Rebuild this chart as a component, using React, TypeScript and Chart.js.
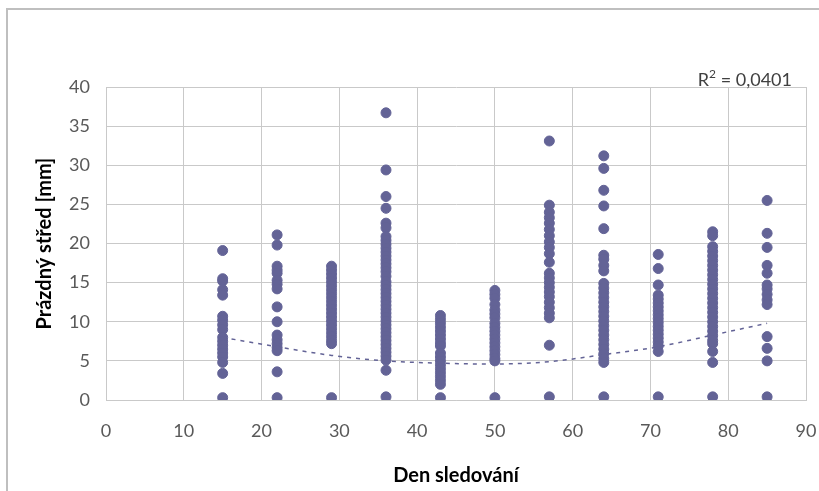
import React, { useEffect, useRef } from "react";
import { Chart, registerables } from "chart.js";

Chart.register(...registerables);

// Measurement days (x positions of the columns)
const days = [15, 22, 29, 36, 43, 50, 57, 64, 71, 78, 85];

// Empty-centre measurements [mm] for each observation day
const d15 = [19.1, 15.5, 15.2, 14.1, 13.4, 10.7, 10.2, 9.6, 9.0, 8.0, 7.5, 7.0, 6.5, 6.0, 5.5, 4.8, 3.4, 0.3];
const d22 = [21.1, 19.8, 17.1, 16.6, 16.2, 15.3, 14.8, 14.2, 11.9, 10.0, 8.3, 7.7, 7.2, 6.7, 6.3, 3.6, 0.3];
const d29 = [17.1, 16.6, 16.1, 15.6, 15.1, 14.6, 14.1, 13.6, 13.1, 12.6, 12.1, 11.6, 11.1, 10.6, 10.1, 9.6, 9.1, 8.6, 8.1, 7.6, 7.2, 0.3];
const d36 = [36.7, 29.4, 26.0, 24.5, 22.6, 22.0, 20.9, 20.4, 19.9, 19.4, 18.9, 18.4, 17.9, 17.4, 16.9, 16.4, 15.8, 15.1, 14.6, 14.1, 13.6, 13.1, 12.6, 12.1, 11.6, 11.1, 10.6, 10.1, 9.6, 9.1, 8.6, 8.1, 7.6, 7.1, 6.6, 6.1, 5.6, 5.1, 3.8, 0.4];
const d43 = [10.8, 10.3, 9.8, 9.3, 8.8, 8.3, 7.8, 7.3, 6.9, 6.0, 5.5, 5.0, 4.5, 4.0, 3.5, 3.0, 2.5, 2.0, 0.3];
const d50 = [14.0, 13.5, 13.0, 12.2, 11.5, 11.0, 10.5, 9.8, 9.3, 8.8, 8.3, 7.8, 7.3, 6.8, 6.3, 5.8, 5.3, 5.0, 0.3];
const d57 = [33.1, 24.9, 24.0, 23.3, 22.6, 21.8, 21.0, 20.2, 19.5, 18.7, 17.6, 16.2, 15.6, 15.0, 14.4, 13.8, 13.2, 12.5, 11.8, 11.1, 10.5, 7.0, 0.4];
const d64 = [31.2, 29.6, 26.8, 24.8, 21.9, 18.5, 18.0, 17.2, 16.5, 14.9, 14.3, 13.7, 13.1, 12.5, 11.9, 11.3, 10.7, 10.1, 9.5, 8.9, 8.3, 7.7, 7.1, 6.5, 5.9, 5.3, 4.8, 0.4];
const d71 = [18.6, 16.8, 14.7, 13.4, 12.9, 12.4, 11.9, 11.4, 10.9, 10.4, 9.9, 9.4, 8.9, 8.4, 7.9, 7.4, 6.9, 6.2, 0.4];
const d78 = [21.5, 21.0, 19.6, 19.0, 18.4, 17.8, 17.2, 16.6, 16.0, 15.4, 14.8, 14.2, 13.6, 13.0, 12.4, 11.8, 11.2, 10.6, 10.0, 9.4, 8.8, 8.2, 7.6, 7.2, 6.2, 4.8, 0.4];
const d85 = [25.5, 21.3, 19.5, 17.2, 16.2, 14.7, 14.2, 13.5, 12.8, 12.2, 8.1, 6.6, 5.0, 0.4];

const columns = [d15, d22, d29, d36, d43, d50, d57, d64, d71, d78, d85];

// Polynomial trend line values at each observation day
const trendValues = [8.0, 6.8, 5.7, 5.0, 4.7, 4.6, 4.9, 5.8, 6.8, 8.3, 9.8];

const rSquaredText = "0,0401";
const xTitle = "Den sledování";
const yTitle = "Prázdný střed [mm]";

const FONT = "Lato, 'Open Sans', sans-serif";
const POINT_COLOR = "rgb(99, 99, 150)";
const GRID_COLOR = "#c9c9c9";

const annotations = {
  id: "annotations",
  afterDraw(chart: any) {
    const { ctx, chartArea } = chart;
    ctx.save();
    // y axis title
    ctx.fillStyle = "#000";
    ctx.font = `bold 20px ${FONT}`;
    ctx.textAlign = "center";
    ctx.textBaseline = "middle";
    ctx.translate(45, (chartArea.top + chartArea.bottom) / 2);
    ctx.rotate(-Math.PI / 2);
    ctx.fillText(yTitle, 0, 0);
    ctx.restore();

    ctx.save();
    // x axis title
    ctx.fillStyle = "#000";
    ctx.font = `bold 20px ${FONT}`;
    ctx.textAlign = "center";
    ctx.textBaseline = "middle";
    ctx.fillText(xTitle, (chartArea.left + chartArea.right) / 2, 476);

    // R² label, right aligned
    ctx.fillStyle = "#404040";
    ctx.textBaseline = "alphabetic";
    ctx.textAlign = "left";
    ctx.font = `18px ${FONT}`;
    const rest = ` = ${rSquaredText}`;
    const wR = ctx.measureText("R").width;
    const wRest = ctx.measureText(rest).width;
    ctx.font = `12px ${FONT}`;
    const w2 = ctx.measureText("2").width;
    const right = 792;
    const baseline = 86;
    let x = right - (wR + w2 + wRest);
    ctx.font = `18px ${FONT}`;
    ctx.fillText("R", x, baseline);
    x += wR;
    ctx.font = `12px ${FONT}`;
    ctx.fillText("2", x, baseline - 8);
    x += w2;
    ctx.font = `18px ${FONT}`;
    ctx.fillText(rest, x, baseline);
    ctx.restore();
  },
};

export default function App() {
  const canvasRef = useRef<HTMLCanvasElement | null>(null);

  useEffect(() => {
    const canvas = canvasRef.current;
    if (!canvas) return;

    const points: { x: number; y: number }[] = [];
    columns.forEach((col, i) => {
      col.forEach((v) => points.push({ x: days[i], y: v }));
    });
    const trend = days.map((d, i) => ({ x: d, y: trendValues[i] }));

    const tickFont = { family: FONT, size: 18 };

    const chart = new Chart(canvas, {
      type: "scatter",
      data: {
        datasets: [
          {
            type: "scatter",
            data: points,
            backgroundColor: POINT_COLOR,
            borderColor: POINT_COLOR,
            pointRadius: 5,
            pointBorderWidth: 1,
            order: 1,
          },
          {
            type: "line",
            data: trend,
            borderColor: POINT_COLOR,
            borderWidth: 1.5,
            borderDash: [4, 5],
            pointRadius: 0,
            fill: false,
            cubicInterpolationMode: "monotone",
            order: 2,
          } as any,
        ],
      },
      options: {
        animation: false,
        responsive: false,
        maintainAspectRatio: false,
        layout: { padding: { top: 87, right: 13, left: 0, bottom: 0 } },
        plugins: {
          legend: { display: false },
          tooltip: { enabled: false },
        },
        scales: {
          x: {
            type: "linear",
            min: 0,
            max: 90,
            ticks: { stepSize: 10, padding: 2, color: "#595959", font: tickFont },
            grid: {
              color: GRID_COLOR,
              lineWidth: 1,
              drawTicks: true,
              tickLength: 18,
              tickColor: "rgba(0,0,0,0)",
            },
            border: { color: GRID_COLOR },
            afterFit: (s: any) => {
              s.height = 91;
            },
          },
          y: {
            type: "linear",
            min: 0,
            max: 40,
            ticks: { stepSize: 5, padding: 16, color: "#595959", font: tickFont },
            grid: { color: GRID_COLOR, lineWidth: 1, drawTicks: false },
            border: { color: GRID_COLOR },
            afterFit: (s: any) => {
              s.width = 106;
            },
          },
        },
      },
      plugins: [annotations],
    });

    return () => chart.destroy();
  }, []);

  return (
    <div>
      <div
        style={{
          position: "fixed",
          left: 6,
          top: 8,
          width: 830,
          height: 500,
          borderTop: "2px solid #bfbfbf",
          borderLeft: "2px solid #bfbfbf",
          boxSizing: "border-box",
        }}
      />
      <canvas
        ref={canvasRef}
        width={819}
        height={491}
        style={{ position: "fixed", left: 0, top: 0, width: 819, height: 491 }}
      />
    </div>
  );
}
